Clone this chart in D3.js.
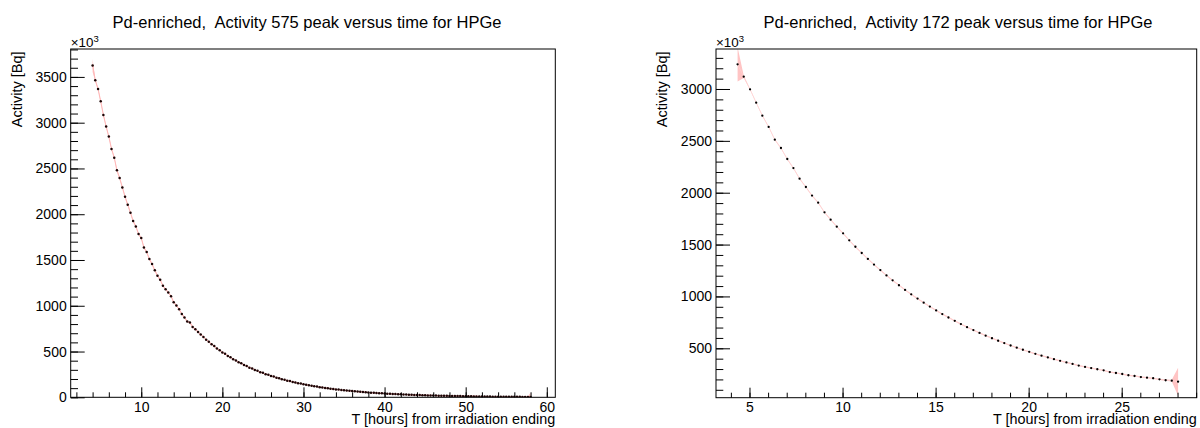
<!DOCTYPE html>
<html><head><meta charset="utf-8">
<script src="https://cdn.jsdelivr.net/npm/d3@7"></script>
<style>html,body{margin:0;padding:0;background:#fff;}svg{display:block;} text{white-space:pre;}</style>
</head><body>
<script>
// ---------- DATA ----------
const titleLeft = "Pd-enriched,  Activity 575 peak versus time for HPGe";
const titleRight = "Pd-enriched,  Activity 172 peak versus time for HPGe";
const xTitle = "T [hours] from irradiation ending";
const yTitle = "Activity [Bq]";

const leftXTicks = [10, 20, 30, 40, 50, 60];
const leftYTicks = [0, 500, 1000, 1500, 2000, 2500, 3000, 3500];
const rightXTicks = [5, 10, 15, 20, 25];
const rightYTicks = [500, 1000, 1500, 2000, 2500, 3000];

const leftTime = [4.00,4.33,4.67,5.00,5.33,5.67,6.00,6.33,6.67,7.00,
7.33,7.67,8.00,8.33,8.67,9.00,9.33,9.67,10.00,10.33,
10.67,11.00,11.33,11.67,12.00,12.33,12.67,13.00,13.33,13.67,
14.00,14.33,14.67,15.00,15.33,15.67,16.00,16.33,16.67,17.00,
17.33,17.67,18.00,18.33,18.67,19.00,19.33,19.67,20.00,20.33,
20.67,21.00,21.33,21.67,22.00,22.33,22.67,23.00,23.33,23.67,
24.00,24.33,24.67,25.00,25.33,25.67,26.00,26.33,26.67,27.00,
27.33,27.67,28.00,28.33,28.67,29.00,29.33,29.67,30.00,30.33,
30.67,31.00,31.33,31.67,32.00,32.33,32.67,33.00,33.33,33.67,
34.00,34.33,34.67,35.00,35.33,35.67,36.00,36.33,36.67,37.00,
37.33,37.67,38.00,38.33,38.67,39.00,39.33,39.67,40.00,40.33,
40.67,41.00,41.33,41.67,42.00,42.33,42.67,43.00,43.33,43.67,
44.00,44.33,44.67,45.00,45.33,45.67,46.00,46.33,46.67,47.00,
47.33,47.67,48.00,48.33,48.67,49.00,49.33,49.67,50.00,50.33,
50.67,51.00,51.33,51.67,52.00,52.33,52.67,53.00,53.33,53.67,
54.00,54.33,54.67,55.00,55.33,55.67,56.00,56.33,56.67,57.00,
57.33,57.67,58.00];
const leftActivity = [3625,3464,3369,3234,3085,2957,2848,2713,2618,2480,
2396,2293,2191,2104,2016,1925,1867,1783,1739,1637,
1586,1510,1455,1389,1327,1283,1218,1181,1145,1105,
1039,1003,962,911,871,827,817,769,744,714,
685,660,628,607,579,560,532,515,490,476,
452,437,416,403,383,371,352,342,324,315,
298,290,275,267,253,246,233,227,214,209,
197,192,182,177,168,163,154,150,142,138,
131,127,120,117,111,108,102,100,94,92,
86,84,80,77,73,72,68,66,62,61,
57,56,53,51,49,47,45,44,41,40,
38,37,35,34,33,31,30,29,27,26,
25,24,23,22,21,21,20,19,18,17,
17,16,15,15,14,13,13,12,12,11,
11,10,10,9,9,8,8,8,7,7,
7,6,6,6,6,5,5,5,5,4,
4,4,4];
const leftError = [70,10,10,10,10,10,10,10,10,10,
9,9,9,9,9,9,9,9,9,9,
8,8,8,8,8,8,8,8,8,8,
8,8,8,8,8,8,8,8,8,8,
7,7,7,7,7,7,7,7,7,7,
7,7,7,7,7,7,7,7,7,7,
6,6,6,6,6,6,6,6,6,6,
6,6,6,6,6,6,6,6,6,6,
6,6,6,6,6,6,6,6,6,6,
6,6,6,6,6,6,6,6,6,6,
6,6,6,6,6,6,6,6,6,6,
6,6,6,6,6,6,6,6,6,6,
6,6,6,6,6,6,6,6,6,6,
6,6,6,6,6,6,6,6,6,6,
6,6,6,6,6,6,6,6,6,6,
6,6,6,6,6,6,6,6,6,6,
6,8,45];

const rightTime = [4.36,4.69,5.03,5.36,5.69,6.03,6.36,6.69,7.03,7.36,
7.69,8.03,8.36,8.69,9.03,9.36,9.69,10.03,10.36,10.69,
11.03,11.36,11.69,12.03,12.36,12.69,13.03,13.36,13.69,14.03,
14.36,14.69,15.03,15.36,15.69,16.03,16.36,16.69,17.03,17.36,
17.69,18.03,18.36,18.69,19.03,19.36,19.69,20.03,20.36,20.69,
21.03,21.36,21.69,22.03,22.36,22.69,23.03,23.36,23.69,24.03,
24.36,24.69,25.03,25.36,25.69,26.03,26.36,26.69,27.03,27.36,
27.69,28.03];
const rightActivity = [3238,3119,2997,2868,2743,2634,2511,2431,2325,2238,
2135,2055,1972,1904,1811,1740,1673,1608,1541,1479,
1419,1362,1307,1254,1203,1155,1108,1063,1020,979,
940,902,865,830,797,765,734,704,676,648,
622,597,573,550,527,506,486,466,447,429,
412,395,379,364,349,333,320,309,298,288,
271,262,252,240,233,223,217,211,201,192,
188,178];
const rightError = [165,12,6,6,6,6,6,6,6,6,
6,6,6,6,6,6,6,6,6,6,
6,6,6,6,6,6,6,6,6,6,
6,6,6,6,6,6,6,6,6,6,
6,6,6,6,6,6,6,6,6,6,
6,6,6,6,6,6,6,6,6,6,
6,6,6,6,6,6,6,6,6,6,
8,135];

// ---------- DRAW ----------
const W = 1200, H = 428;
const FONT = "'Liberation Sans', Arial, Helvetica, sans-serif";
const svg = d3.select("body").append("svg").attr("width", W).attr("height", H)
  .style("font-family", FONT);

function panel(cfg) {
  const x = d3.scaleLinear().domain(cfg.xDomain).range([cfg.x0, cfg.x1]);
  const y = d3.scaleLinear().domain(cfg.yDomain).range([cfg.y1, cfg.y0]);
  const g = svg.append("g");

  const clipId = "clip" + cfg.id;
  svg.append("clipPath").attr("id", clipId).append("rect")
    .attr("x", cfg.x0).attr("y", cfg.y0).attr("width", cfg.x1 - cfg.x0).attr("height", cfg.y1 - cfg.y0);

  const data = cfg.t.map((t, i) => ({t, v: cfg.v[i], e: cfg.e[i]}));
  const plot = g.append("g").attr("clip-path", `url(#${clipId})`);

  plot.append("path").datum(data)
    .attr("d", d3.area().x(d => x(d.t)).y0(d => y(d.v - d.e)).y1(d => y(d.v + d.e)))
    .attr("fill", cfg.bandColor);
  plot.append("path").datum(data)
    .attr("d", d3.line().x(d => x(d.t)).y(d => y(d.v)))
    .attr("fill", "none").attr("stroke", cfg.lineColor).attr("stroke-width", cfg.lineWidth);
  plot.selectAll("circle").data(data).enter().append("circle")
    .attr("cx", d => x(d.t)).attr("cy", d => y(d.v)).attr("r", cfg.r)
    .attr("fill", cfg.markerColor);

  // X axis: major + minor
  const xMinor = d3.range(Math.ceil(cfg.xDomain[0] / cfg.xMinorStep) * cfg.xMinorStep, cfg.xDomain[1], cfg.xMinorStep);
  const xa = g.append("g").attr("transform", `translate(0,${cfg.y1})`)
    .call(d3.axisBottom(x).tickValues(xMinor).tickSize(-5).tickFormat(""));
  xa.select(".domain").remove();
  const xb = g.append("g").attr("transform", `translate(0,${cfg.y1})`)
    .call(d3.axisBottom(x).tickValues(cfg.xTicks).tickSizeInner(-10).tickSizeOuter(0).tickPadding(4.5).tickFormat(d3.format("d")));
  xb.select(".domain").remove();
  xb.selectAll("text").attr("font-size", 14).attr("fill", "#000").style("font-family", FONT);

  // Y axis: major + minor
  const yMinor = d3.range(Math.ceil(cfg.yDomain[0] / 100) * 100, cfg.yDomain[1], 100);
  const ya = g.append("g").attr("transform", `translate(${cfg.x0},0)`)
    .call(d3.axisLeft(y).tickValues(yMinor).tickSize(-7.3).tickFormat(""));
  ya.select(".domain").remove();
  const yb = g.append("g").attr("transform", `translate(${cfg.x0},0)`)
    .call(d3.axisLeft(y).tickValues(cfg.yTicks).tickSizeInner(-14).tickSizeOuter(0).tickPadding(4)
      .tickFormat(d => String(d)));
  yb.select(".domain").remove();
  yb.selectAll("text").attr("font-size", 14).attr("fill", "#000").attr("x", -4).style("font-family", FONT);
  svg.selectAll(".tick line").attr("stroke", "#000");

  // frame
  g.append("rect").attr("x", cfg.x0).attr("y", cfg.y0)
    .attr("width", cfg.x1 - cfg.x0).attr("height", cfg.y1 - cfg.y0)
    .attr("fill", "none").attr("stroke", "#000").attr("stroke-width", 1);

  // titles
  g.append("text").attr("x", cfg.titleX).attr("y", 27.5).attr("text-anchor", "middle")
    .attr("font-size", 16.5).attr("xml:space", "preserve").text(cfg.title);
  g.append("text").attr("x", cfg.x1).attr("y", 424).attr("text-anchor", "end")
    .attr("font-size", 14.4).text(xTitle);
  g.append("text").attr("transform", `translate(${cfg.x0 - 49},51.5) rotate(-90)`)
    .attr("text-anchor", "end").attr("font-size", 14.5).text(yTitle);
  const ex = g.append("text").attr("x", cfg.x0).attr("y", 46.5).attr("font-size", 13.4);
  ex.append("tspan").text("\u00d710");
  ex.append("tspan").attr("font-size", 9.5).attr("dy", -5).text("3");
}

panel({id: "L", x0: 70.7, x1: 555.3, y0: 49, y1: 397.3,
  xDomain: [1.3, 61.05], yDomain: [0, 3805], xTicks: leftXTicks, yTicks: leftYTicks, xMinorStep: 2,
  t: leftTime, v: leftActivity, e: leftError, r: 1.25, markerColor: "#1a0505",
  bandColor: "#ffc4c4", lineColor: "#ffb8b8", lineWidth: 1.1,
  title: titleLeft, titleX: 307});
panel({id: "R", x0: 716, x1: 1196.7, y0: 49, y1: 397.7,
  xDomain: [3.2, 29.03], yDomain: [23.7, 3385.6], xTicks: rightXTicks, yTicks: rightYTicks, xMinorStep: 1,
  t: rightTime, v: rightActivity, e: rightError, r: 1.15, markerColor: "#000",
  bandColor: "#ffc4c4", lineColor: "#ffd6d6", lineWidth: 0.6,
  title: titleRight, titleX: 958});
</script>
</body></html>
